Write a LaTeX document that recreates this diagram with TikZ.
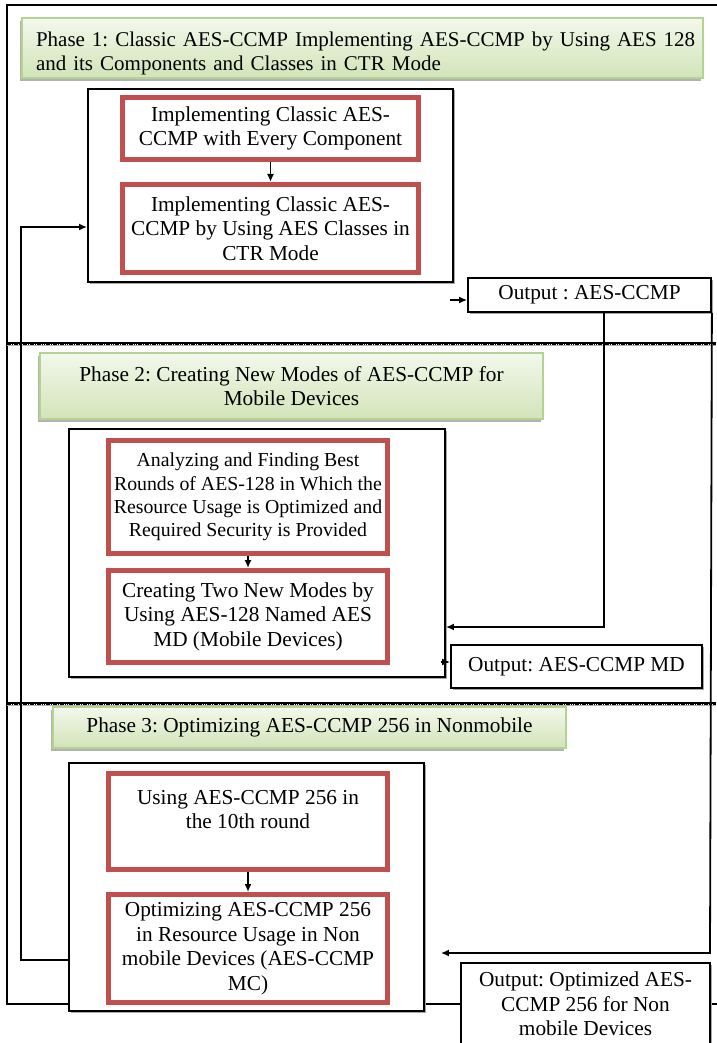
\documentclass[tikz,border=0pt]{standalone}
\usepackage{fontspec}
\setmainfont{Liberation Serif}
\usetikzlibrary{arrows.meta,shadows,calc}
\definecolor{redB}{RGB}{192,80,77}
\definecolor{gTop}{RGB}{243,248,236}
\definecolor{gBot}{RGB}{210,228,184}
\definecolor{gBorder}{RGB}{180,210,145}
\begin{document}
\frenchspacing
\begin{tikzpicture}[x=1pt,y=-1pt,
  every node/.style={font=\fontsize{21.3}{24.5}\selectfont},
  blk/.style={draw=black, line width=1.8pt, fill=white, inner sep=0pt,
    drop shadow={shadow xshift=1.5pt,shadow yshift=-1.5pt,fill=black!35,opacity=1}},
  redbox/.style={draw=redB, line width=5pt, fill=white, align=center, inner sep=0pt},
  phase/.style={draw=gBorder, line width=1.5pt, top color=gTop, bottom color=gBot, inner sep=0pt,
    drop shadow={shadow xshift=-2.5pt,shadow yshift=-3pt,fill=black!30,opacity=1}},
  outbox/.style={blk, align=center},
  conn/.style={line width=1.8pt},
  arr/.style={conn, -{Latex[length=8pt,width=7pt]}},
  sepline/.style={line width=3pt, dash pattern=on 1.6pt off 0.7pt}
]
\useasboundingbox (0,0) rectangle (716,1043);
% outer frame
\draw[line width=1.8pt] (7,5) rectangle (719,1004);
% separators
\draw[line width=1pt, black!30] (7,345.8) -- (716,345.8);
\draw[line width=1.2pt] (7,343) -- (716,343);
\draw[sepline] (7,343) -- (716,343);
\draw[line width=1pt, black!30] (7,705.8) -- (716,705.8);
\draw[line width=1.2pt] (7,703) -- (716,703);
\draw[sepline] (7,703) -- (716,703);

% Phase 1
\node[phase, minimum width=681pt, minimum height=60pt, text width=676pt, text height=25pt, align=left,
      font=\fontsize{21}{24.5}\selectfont] (ph1) at (362.5,48)
  {\hspace*{11.5pt}Phase 1: Classic AES-CCMP Implementing AES-CCMP by Using AES 128\\\hspace*{11.5pt}and its Components and Classes in CTR Mode};
\node[blk, minimum width=365pt, minimum height=193pt] (p1box) at (270.5,185.5) {};
\node[redbox, minimum width=296pt, minimum height=62pt] (r1) at (270.5,128.5)
  {Implementing Classic AES-\\CCMP with Every Component};
\node[redbox, minimum width=296pt, minimum height=88pt] (r2) at (270.5,228.5)
  {Implementing Classic AES-\\CCMP by Using AES Classes in\\CTR Mode};
\node[outbox, minimum width=243pt, minimum height=34pt] (out1) at (589.5,295) {Output : AES-CCMP};

% Phase 2
\node[phase, minimum width=503pt, minimum height=66pt, align=center] (ph2) at (291.5,386)
  {Phase 2: Creating New Modes of AES-CCMP for\\Mobile Devices};
\node[blk, minimum width=376pt, minimum height=248pt] (p2box) at (257,553) {};
\node[redbox, minimum width=279pt, minimum height=113pt, font=\fontsize{19.8}{23.2}\selectfont] (r3) at (248,497)
  {Analyzing and Finding Best\\Rounds of AES-128 in Which the\\Resource Usage is Optimized and\\Required Security is Provided};
\node[redbox, minimum width=279pt, minimum height=92pt] (r4) at (248,616.5)
  {Creating Two New Modes by\\Using AES-128 Named AES\\MD (Mobile Devices)};
\node[outbox, minimum width=251pt, minimum height=43pt] (out2) at (576.5,666.5) {Output: AES-CCMP MD};

% Phase 3
\node[phase, minimum width=513pt, minimum height=41pt, align=center] (ph3) at (309.5,727.5)
  {Phase 3: Optimizing AES-CCMP 256 in Nonmobile};
\node[blk, minimum width=355pt, minimum height=248pt] (p3box) at (246.5,887) {};
\node[redbox, minimum width=279pt, minimum height=96pt] (r5) at (248,821.5)
  {Using AES-CCMP 256 in\\the 10th round\\\mbox{}};
\node[redbox, minimum width=279pt, minimum height=108pt] (r6) at (248,948.5)
  {Optimizing AES-CCMP 256\\in Resource Usage in Non\\mobile Devices (AES-CCMP\\MC)};
\node[outbox, minimum width=249pt, minimum height=82pt] (out3) at (585.5,1004)
  {Output: Optimized AES-\\CCMP 256 for Non\\mobile Devices};

% connectors inside boxes
\draw[arr] (r1.south) -- (r2.north);
\draw[arr] (r3.south) -- (r4.north);
\draw[arr] (r5.south) -- (r6.north);

% feedback loop from phase 3 to phase 1
\coordinate (fbA) at (21,960);
\coordinate (fbB) at (21,227);
\draw[arr] (p3box.west |- fbA) -- (fbA) -- (fbB) -- (p1box.west |- fbB);

% output 1 links
\coordinate (s1) at (450,300);
\draw[arr] (s1) -- (out1.west |- s1);
\coordinate (c1) at (604,627);
\draw[arr] (out1.south -| c1) -- (c1) -- (p2box.east |- c1);
\coordinate (c2) at (710,953);
\draw[arr] (out1.south east) -- (c2) -- ($(p3box.east |- c2)+(16,0)$);

% output 2 stub
\coordinate (s2) at (441,662);
\draw[arr] (s2) -- (out2.west |- s2);
\end{tikzpicture}
\end{document}
